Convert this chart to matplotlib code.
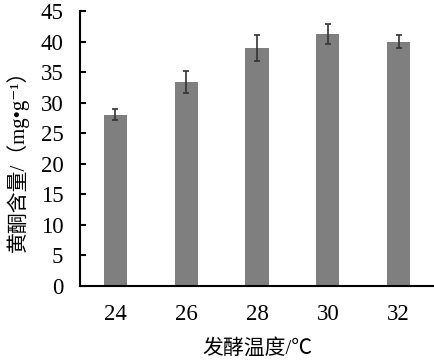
import matplotlib
matplotlib.use("Agg")
import matplotlib.pyplot as plt

categories = ["24", "26", "28", "30", "32"]
values = [28.0, 33.4, 39.0, 41.2, 40.0]
errors = [0.9, 1.8, 2.1, 1.6, 1.1]
yticks = [0, 5, 10, 15, 20, 25, 30, 35, 40, 45]

fams = ['Liberation Serif', 'Noto Sans CJK SC', 'DejaVu Serif']
plt.rcParams['font.family'] = fams

fig = plt.figure(figsize=(4.34, 3.6), dpi=100)
ax = fig.add_axes([80/434, 74/360, 354/434, 275/360])
x = list(range(len(categories)))
ax.bar(x, values, width=0.33, color='#7f7f7f', yerr=errors,
       error_kw=dict(ecolor='#333333', elinewidth=1.2, capsize=2.5, capthick=1.2))
ax.set_xlim(-0.5, 4.5)
ax.set_ylim(0, 45)
ax.set_yticks(yticks)
ax.set_xticks(x)
ax.set_xticklabels(categories)
ax.spines['top'].set_visible(False)
ax.spines['right'].set_visible(False)
ax.spines['left'].set_linewidth(1.5)
ax.spines['bottom'].set_linewidth(1.5)
ax.tick_params(axis='y', direction='in', length=4, width=1.5, labelsize=16.5, pad=12)
ax.tick_params(axis='x', length=0, labelsize=16.5, pad=13)
ax.set_xlabel('发酵温度/℃', fontsize=15, labelpad=10)
ax.set_ylabel('黄酮含量/（mg•g⁻¹）', fontsize=15)
ax.yaxis.set_label_coords(-0.145, 0.475)
fig.savefig('out.png', dpi=100)
